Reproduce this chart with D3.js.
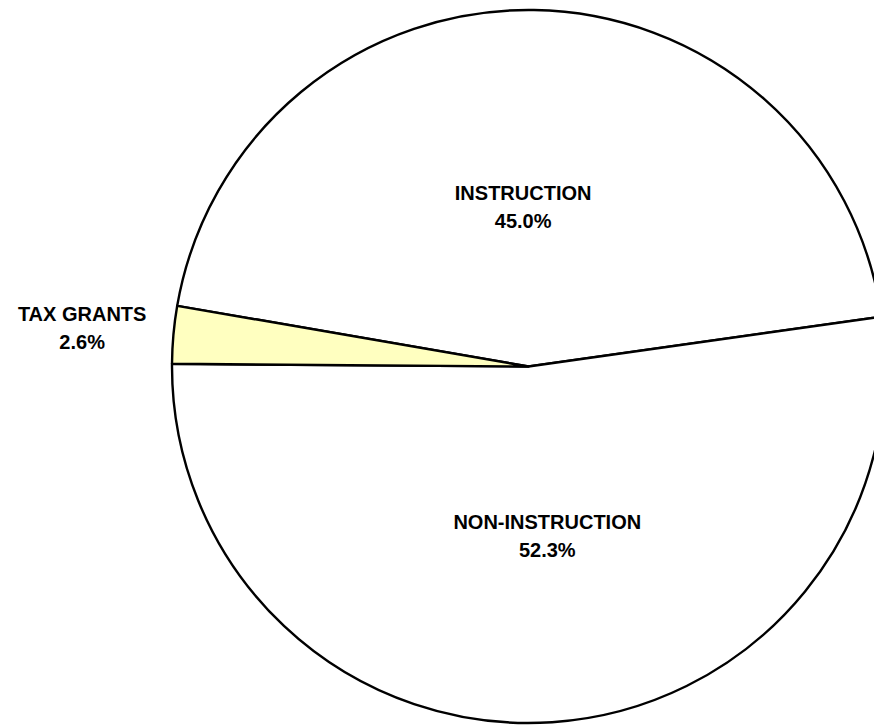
<!DOCTYPE html>
<html>
<head>
<meta charset="utf-8">
<script src="https://cdn.jsdelivr.net/npm/d3@7"></script>
<style>
html,body{margin:0;padding:0;background:#fff;}
svg{display:block;}
</style>
</head>
<body>
<svg id="chart" width="874" height="725"></svg>
<script>
const categories = ["INSTRUCTION", "NON-INSTRUCTION", "TAX GRANTS"];
const values = [45.0, 52.3, 2.6];
const labels = ["45.0%", "52.3%", "2.6%"];
const colors = ["#FFFFFF", "#FFFFFF", "#FFFFC0"];

const W = 874, H = 725;
const cx = 528.5, cy = 366.5, R = 356.5;
const svg = d3.select("#chart");
const g = svg.append("g").attr("transform", `translate(${cx},${cy})`);

const startDeg = -80.2;
const pie = d3.pie().sort(null).value(d => d.v)
  .startAngle(startDeg * Math.PI / 180)
  .endAngle((startDeg + 360) * Math.PI / 180);
const data = categories.map((c, i) => ({c, v: values[i], l: labels[i], col: colors[i]}));
const arcs = pie(data);
const arc = d3.arc().innerRadius(0).outerRadius(R);

g.selectAll("path").data(arcs).enter().append("path")
  .attr("d", arc)
  .attr("fill", d => d.data.col)
  .attr("stroke", "#000")
  .attr("stroke-width", 2.4)
  .attr("stroke-linejoin", "round");

const labelR = [160, 171, 448];
const labelShift = [-2.8, -2.5, -0.2];
arcs.forEach((a, i) => {
  const ang = (a.startAngle + a.endAngle) / 2 + labelShift[i] * Math.PI / 180;
  const x = labelR[i] * Math.sin(ang);
  const y = -labelR[i] * Math.cos(ang);
  const t = g.append("text")
    .attr("x", x).attr("y", y)
    .attr("text-anchor", "middle")
    .attr("font-family", "Liberation Sans, Arial, sans-serif")
    .attr("font-weight", "bold")
    .attr("font-size", 20)
    .attr("fill", "#000");
  t.append("tspan").attr("x", x).attr("dy", "-0.35em").text(a.data.c);
  t.append("tspan").attr("x", x).attr("dy", "1.4em").text(a.data.l);
});
</script>
</body>
</html>
